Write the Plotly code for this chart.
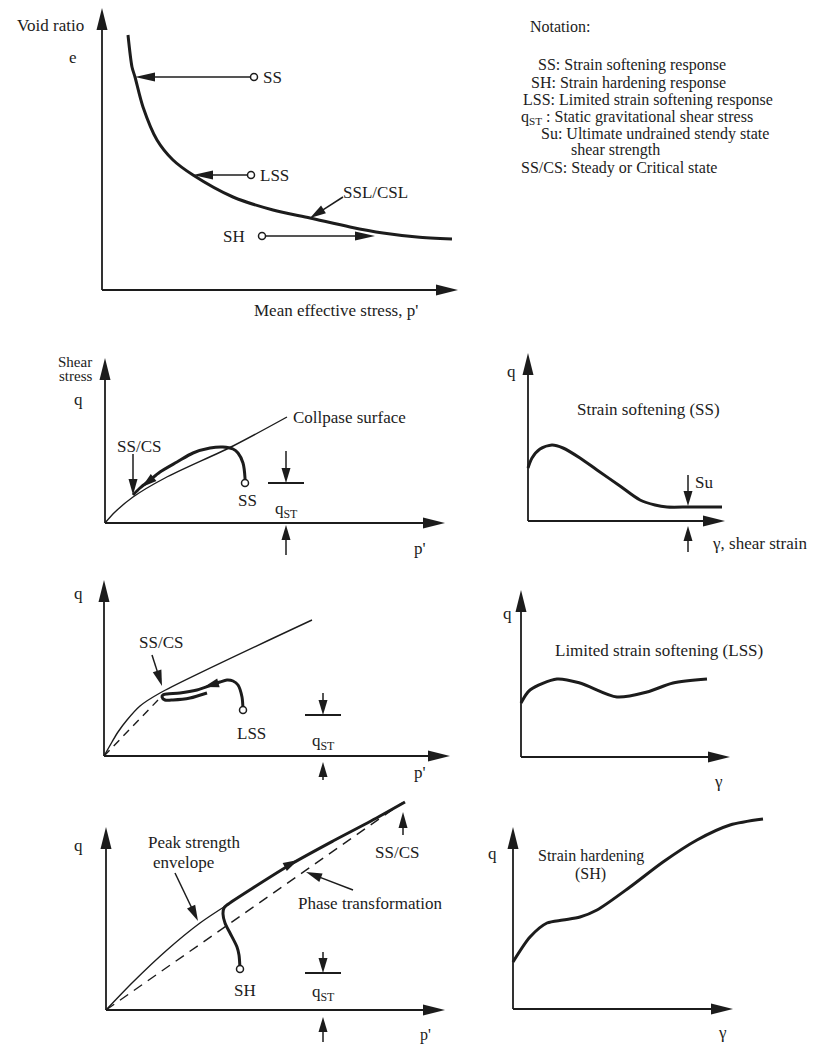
import math
import plotly.graph_objects as go

W, H = 820, 1046
INK = "#1c1c1c"
FONT = "Liberation Serif, Times New Roman, serif"

# ---------------- data (panel units: origin at axis corner) ----------------
# A: void ratio e vs mean effective stress p'
ssl_p = [26, 30, 33, 41, 55, 71, 91, 131, 171, 208, 248, 281, 315, 350]
ssl_e = [255, 223, 213, 183, 150, 130, 115, 93, 80, 72, 63, 57, 53, 51]
state_start_p = [152, 149, 160]
state_end_p = [33, 91, 273]
state_e = [213, 115, 54]
state_labels = ["SS", "LSS", "SH"]

# B: strain softening stress path
collapse_p = [0, 10, 28, 60, 128, 182]
collapse_q = [0, 11, 26, 45, 77, 106]
ss_path_p = [140, 140, 138, 133, 128, 118, 105, 88, 72, 55, 45, 35, 28]
ss_path_q = [40, 45, 60, 70, 74, 76, 75, 70, 61, 51, 43, 35, 28]

# C: strain softening q - gamma
ss_gamma = [0, 4, 12, 24, 35, 52, 69, 92, 112, 127, 139, 162, 194]
ss_q = [53, 63, 72, 76, 73, 63, 51, 35, 21, 16, 14, 14, 14]

# D: limited strain softening stress path
env_d_p = [0, 8, 14, 23, 36, 56, 208]
env_d_q = [0, 14, 24, 36, 50, 63, 136]
pt_d_p = [0, 54]
pt_d_q = [0, 56]
lss_path_p = [139, 138, 134, 129, 123, 116, 108, 93, 76, 63, 59, 58, 61, 69, 86, 103]
lss_path_q = [46, 59, 71, 75, 76, 74, 71, 66, 63, 62, 61, 59, 56, 56, 58, 63]

# E: limited strain softening q - gamma
lss_gamma = [0, 9, 36, 59, 96, 126, 152, 186]
lss_q = [54, 67, 78, 74, 60, 65, 74, 78]

# F: strain hardening stress path
env_f_p = [0, 27, 61, 94, 121]
env_f_q = [0, 28, 60, 87, 105]
pt_f_p = [0, 296]
pt_f_q = [0, 207]
sh_path_p = [134, 133, 131, 124, 119, 117, 118, 121, 150, 187, 227, 265, 299]
sh_path_q = [41, 55, 63, 77, 87, 96, 102, 105, 124, 147, 169, 189, 208]

# G: strain hardening q - gamma
sh_gamma = [0, 17, 34, 50, 67, 84, 117, 150, 184, 217, 250]
sh_q = [47, 72, 86, 89, 92, 99, 122, 147, 169, 184, 190]

notation_lines = [
    "Notation:",
    "SS: Strain softening response",
    "SH: Strain hardening response",
    "LSS: Limited strain softening response",
    "q<sub>ST</sub> : Static gravitational shear stress",
    "Su: Ultimate undrained stendy state",
    "shear strength",
    "SS/CS: Steady or Critical state",
]

# ---------------- layout of panels (pixels) ----------------
panels = {
    "A": dict(box=(0, 480, 0, 322), origin=(102, 290), axes=(356, 282)),
    "B": dict(box=(0, 480, 322, 560), origin=(105, 523), axes=(340, 165)),
    "C": dict(box=(480, 820, 322, 560), origin=(528, 521), axes=(197, 168)),
    "D": dict(box=(0, 480, 560, 790), origin=(104, 756), axes=(346, 176)),
    "E": dict(box=(480, 820, 560, 790), origin=(521, 757), axes=(209, 167)),
    "F": dict(box=(0, 480, 790, 1046), origin=(106, 1010), axes=(339, 183)),
    "G": dict(box=(480, 820, 790, 1046), origin=(513, 1009), axes=(220, 182)),
}

fig = go.Figure()
shapes, annotations = [], []
layout_axes = {}
refs = {}
for i, (key, pnl) in enumerate(panels.items(), start=1):
    l, r, t, b = pnl["box"]
    ox, oy = pnl["origin"]
    sx = "" if i == 1 else str(i)
    layout_axes["xaxis" + sx] = dict(domain=[l / W, r / W], range=[l - ox, r - ox],
                                     visible=False, fixedrange=True, anchor="y" + sx)
    layout_axes["yaxis" + sx] = dict(domain=[1 - b / H, 1 - t / H], range=[oy - b, oy - t],
                                     visible=False, fixedrange=True, anchor="x" + sx)
    refs[key] = ("x" + sx, "y" + sx)


def head(key, tip, frm, L, Wd):
    xr, yr = refs[key]
    dx, dy = tip[0] - frm[0], tip[1] - frm[1]
    n = math.hypot(dx, dy)
    ux, uy = dx / n, dy / n
    bx, by = tip[0] - ux * L, tip[1] - uy * L
    px, py = -uy * Wd / 2, ux * Wd / 2
    path = (f"M{tip[0]:.2f},{tip[1]:.2f} L{bx + px:.2f},{by + py:.2f} "
            f"L{bx - px:.2f},{by - py:.2f} Z")
    shapes.append(dict(type="path", path=path, xref=xr, yref=yr,
                       fillcolor=INK, line=dict(width=0), layer="above"))


def arrow(key, frm, tip, L=16, Wd=9, lw=1.5):
    xr, yr = refs[key]
    dx, dy = tip[0] - frm[0], tip[1] - frm[1]
    n = math.hypot(dx, dy)
    ux, uy = dx / n, dy / n
    ex, ey = tip[0] - ux * (L - 3), tip[1] - uy * (L - 3)
    fig.add_trace(go.Scatter(x=[frm[0], ex], y=[frm[1], ey], mode="lines",
                             line=dict(color=INK, width=lw), xaxis=xr, yaxis=yr,
                             showlegend=False, hoverinfo="skip"))
    head(key, tip, frm, L, Wd)


def curve(key, xs, ys, lw=3.0, dash=None, spline=True):
    xr, yr = refs[key]
    fig.add_trace(go.Scatter(x=xs, y=ys, mode="lines",
                             line=dict(color=INK, width=lw, dash=dash,
                                       shape="spline" if spline else "linear",
                                       smoothing=0.8),
                             xaxis=xr, yaxis=yr, showlegend=False, hoverinfo="skip"))


def dot(key, x, y):
    xr, yr = refs[key]
    fig.add_trace(go.Scatter(x=[x], y=[y], mode="markers",
                             marker=dict(symbol="circle", size=7, color="white",
                                         line=dict(color=INK, width=1.5)),
                             xaxis=xr, yaxis=yr, showlegend=False, hoverinfo="skip"))


def label(key, x, y, text, xanchor="center", size=17):
    xr, yr = refs[key]
    annotations.append(dict(x=x, y=y, xref=xr, yref=yr, text=text, showarrow=False,
                            xanchor=xanchor, yanchor="middle", borderpad=0,
                            font=dict(family=FONT, size=size, color=INK)))


def qst(key, qx, top, bar, text_y, up_from, up_to):
    arrow(key, (qx, top), (qx, bar), L=15, Wd=9, lw=1.5)
    xr, yr = refs[key]
    fig.add_trace(go.Scatter(x=[qx - 18, qx + 18], y=[bar, bar], mode="lines",
                             line=dict(color=INK, width=1.8), xaxis=xr, yaxis=yr,
                             showlegend=False, hoverinfo="skip"))
    label(key, qx, text_y, "q<sub>ST</sub>")
    arrow(key, (qx, up_from), (qx, up_to), L=15, Wd=9, lw=1.5)


# axes with arrows
for key, pnl in panels.items():
    ax_len, ay_len = pnl["axes"]
    arrow(key, (0, 0), (ax_len, 0), L=22, Wd=11, lw=1.8)
    arrow(key, (0, 0), (0, ay_len), L=22, Wd=11, lw=1.8)

# ---- A
curve("A", ssl_p, ssl_e, lw=3.0)
for sp, ep, e, lab in zip(state_start_p, state_end_p, state_e, state_labels):
    arrow("A", (sp, e), (ep, e), L=20, Wd=9, lw=1.5)
    dot("A", sp, e)
label("A", 160, 213, "SS", xanchor="left")
label("A", 157, 115, "LSS", xanchor="left")
label("A", 144, 54, "SH", xanchor="right")
arrow("A", (241, 93), (208, 72), L=16, Wd=9, lw=1.5)
label("A", 240, 98, "SSL/CSL", xanchor="left")
label("A", -17, 265, "Void ratio", xanchor="right")
label("A", -29, 233, "e")
label("A", 151, -20, "Mean effective stress, p'", xanchor="left")

# ---- B
curve("B", collapse_p, collapse_q, lw=1.4)
curve("B", ss_path_p, ss_path_q, lw=3.0)
head("B", (37, 36), (48, 45), 15, 9)
dot("B", ss_path_p[0], ss_path_q[0])
arrow("B", (28, 69), (28, 28), L=16, Wd=9)
label("B", 34, 76, "SS/CS")
label("B", 142, 22, "SS")
label("B", 187, 105, "Collpase surface", xanchor="left")
label("B", -12, 161, "Shear", xanchor="right", size=15)
label("B", -12, 147, "stress", xanchor="right", size=15)
label("B", -27, 123, "q")
label("B", 315, -25, "p'")
qst("B", 181, 72, 40, 13, -32, -2)

# ---- C
curve("C", ss_gamma, ss_q, lw=3.0)
arrow("C", (160, 46), (160, 15), L=15, Wd=9)
arrow("C", (160, -31), (160, -5), L=15, Wd=9)
label("C", 166, 38, "Su", xanchor="left")
label("C", -16, 149, "q")
label("C", 120, 111, "Strain softening (SS)")
label("C", 183, -22, "γ, shear strain", xanchor="left")

# ---- D
curve("D", env_d_p, env_d_q, lw=1.4)
curve("D", pt_d_p, pt_d_q, lw=1.4, dash="8px,6px", spline=False)
curve("D", lss_path_p, lss_path_q, lw=3.0)
head("D", (100, 69), (114, 73), 15, 9)
dot("D", lss_path_p[0], lss_path_q[0])
arrow("D", (48, 101), (58, 70), L=16, Wd=9)
label("D", 57, 114, "SS/CS")
label("D", 147, 23, "LSS")
label("D", -26, 163, "q")
label("D", 316, -16, "p'")
qst("D", 219, 63, 41, 14, -24, -6)

# ---- E
curve("E", lss_gamma, lss_q, lw=3.0)
label("E", -13, 144, "q")
label("E", 138, 107, "Limited strain softening (LSS)")
label("E", 197, -24, "γ")

# ---- F
curve("F", env_f_p, env_f_q, lw=1.4)
curve("F", pt_f_p, pt_f_q, lw=1.4, dash="10px,7px", spline=False)
curve("F", sh_path_p, sh_path_q, lw=3.0)
head("F", (192, 150), (175, 141), 15, 9)
dot("F", sh_path_p[0], sh_path_q[0])
arrow("F", (69, 137), (92, 89), L=16, Wd=9)
arrow("F", (247, 120), (200, 138), L=16, Wd=9)
arrow("F", (297, 175), (297, 198), L=16, Wd=9)
label("F", 41, 168, "Peak strength", xanchor="left")
label("F", 46, 148, "envelope", xanchor="left")
label("F", 291, 158, "SS/CS")
label("F", 191, 107, "Phase transformation", xanchor="left")
label("F", 139, 20, "SH")
label("F", -28, 165, "q")
label("F", 319, -25, "p'", size=16)
qst("F", 217, 58, 37, 17, -32, -7)

# ---- G
curve("G", sh_gamma, sh_q, lw=3.0)
label("G", -20, 156, "q")
label("G", 78, 153, "Strain hardening", size=16)
label("G", 77, 135, "(SH)", size=16)
label("G", 209, -23, "γ")

# ---- notation block (paper coords)
note_pos = [(529, 27), (537, 65), (530, 83), (522, 100), (520, 117), (540, 134), (570, 150), (520, 168)]
for txt, (px, py) in zip(notation_lines, note_pos):
    annotations.append(dict(x=px / W, y=1 - py / H, xref="paper", yref="paper", text=txt,
                            showarrow=False, xanchor="left", yanchor="middle", borderpad=0,
                            font=dict(family=FONT, size=16, color=INK)))

fig.update_layout(width=W, height=H, margin=dict(l=0, r=0, t=0, b=0, pad=0),
                  paper_bgcolor="white", plot_bgcolor="white", autosize=False,
                  shapes=shapes, annotations=annotations, showlegend=False, **layout_axes)

fig.write_html("out.html", config={"displayModeBar": False, "staticPlot": True},
               post_script="document.body.style.margin='0';")
